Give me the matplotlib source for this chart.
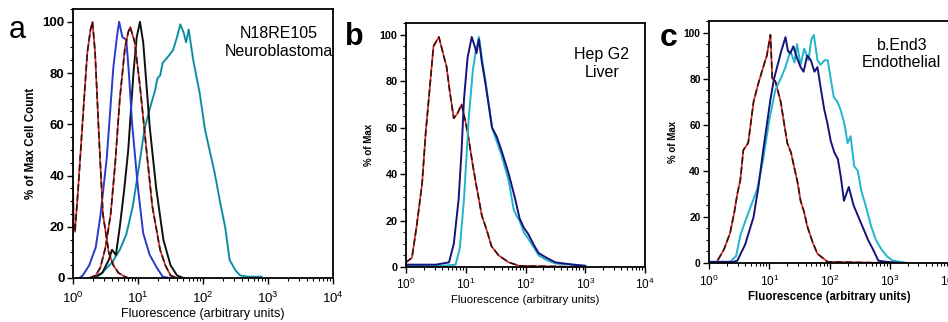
import numpy as np
import matplotlib
matplotlib.use("Agg")
import matplotlib.pyplot as plt
from matplotlib.ticker import LogLocator, MultipleLocator, NullFormatter

plt.rcParams['font.family'] = ['Liberation Sans', 'DejaVu Sans']
plt.rcParams['mathtext.fontset'] = 'custom'
plt.rcParams['mathtext.rm'] = 'Liberation Sans'
plt.rcParams['mathtext.it'] = 'Liberation Sans'

# ---------------- Panel a data (log10 fluorescence, % of max) ----------------
a_ctrl_x = [0.0, 0.01, 0.03, 0.08, 0.15, 0.22, 0.27, 0.30, 0.34, 0.40, 0.46, 0.55, 0.62, 0.70, 0.80, 0.85]
a_ctrl_y = [37, 20, 18, 35, 62, 88, 97, 100, 88, 55, 25, 10, 5, 2, 0.5, 0]
a_blue_x = [0.10, 0.15, 0.25, 0.35, 0.42, 0.52, 0.62, 0.68, 0.71, 0.76, 0.82, 0.86, 0.91, 1.00, 1.08, 1.18, 1.29, 1.38, 1.5]
a_blue_y = [0, 1, 5, 12, 24, 47, 82, 95, 100, 94, 93, 80, 60, 35, 17.5, 9, 4, 0.5, 0]
a_red_x = [0.25, 0.35, 0.42, 0.50, 0.58, 0.65, 0.72, 0.80, 0.85, 0.88, 0.95, 1.03, 1.13, 1.22, 1.34, 1.42, 1.5, 1.6]
a_red_y = [0, 1, 4, 12, 25, 45, 70, 90, 96, 98, 92, 75, 50, 28, 11, 5, 1, 0]
a_black_x = [0.30, 0.45, 0.55, 0.60, 0.66, 0.72, 0.79, 0.85, 0.93, 0.98, 1.03, 1.08, 1.18, 1.28, 1.39, 1.50, 1.60, 1.70]
a_black_y = [0, 2, 7, 11, 9, 20, 35, 50, 80, 94, 100, 92, 59, 35, 15, 5, 1, 0]
a_cyan_x = [0.35, 0.45, 0.52, 0.60, 0.72, 0.82, 0.92, 1.03, 1.10, 1.18, 1.26, 1.30, 1.34, 1.38, 1.45, 1.54, 1.60, 1.65, 1.70, 1.74, 1.78, 1.85, 1.95, 2.03, 2.10, 2.18, 2.26, 2.34, 2.41, 2.50, 2.57, 2.7, 2.9]
a_cyan_y = [0, 2, 4, 6, 11, 17, 28, 46, 58, 66, 73, 78, 79, 84, 86, 89, 94, 99, 96, 92, 97, 85, 72, 58, 50, 41, 30, 20, 7, 3, 1, 0.5, 0.5]

# ---------------- Panel b data ----------------
b_ctrl_x = [0.0, 0.1, 0.18, 0.27, 0.33, 0.38, 0.46, 0.55, 0.62, 0.68, 0.73, 0.77, 0.80, 0.86, 0.93, 1.0, 1.05, 1.11, 1.17, 1.27, 1.35, 1.43, 1.55, 1.72, 1.9, 3.0]
b_ctrl_y = [2, 4, 18, 36, 58, 72, 95, 99, 92, 86, 76, 69, 64, 66, 70, 62, 55, 45, 36, 22, 16, 9, 5, 2, 0.5, 0]
b_blue_x = [0.0, 0.5, 0.72, 0.80, 0.88, 0.93, 0.97, 1.03, 1.10, 1.15, 1.18, 1.22, 1.27, 1.33, 1.44, 1.52, 1.60, 1.72, 1.83, 1.90, 1.97, 2.05, 2.15, 2.22, 2.35, 2.5, 2.8, 3.0]
b_blue_y = [1, 1, 2, 10, 29, 50, 72, 90, 99, 95, 92, 98, 88, 79, 60, 56, 50, 40, 29, 21, 17, 14, 9, 6, 4, 2, 1, 0.5]
b_cyan_x = [0.0, 0.6, 0.83, 0.90, 0.97, 1.05, 1.12, 1.17, 1.22, 1.27, 1.33, 1.44, 1.52, 1.60, 1.72, 1.80, 1.85, 1.90, 1.97, 2.05, 2.15, 2.22, 2.35, 2.5, 2.8, 3.0]
b_cyan_y = [0.5, 0.5, 1, 8, 29, 64, 85, 93, 99, 90, 80, 60, 54, 48, 37, 25, 22, 20, 15, 12, 8, 5, 3, 1.5, 1, 0.5]

# ---------------- Panel c data ----------------
c_ctrl_x = [0.0, 0.13, 0.25, 0.35, 0.42, 0.47, 0.52, 0.57, 0.65, 0.74, 0.82, 0.90, 0.96, 1.02, 1.05, 1.10, 1.19, 1.25, 1.30, 1.36, 1.41, 1.47, 1.52, 1.58, 1.63, 1.72, 1.80, 1.97, 3.0]
c_ctrl_y = [0.5, 0.5, 6, 13, 22, 30, 36, 49, 52, 70, 78, 85, 90, 99, 80, 79, 70, 60, 52, 48, 42, 35, 27, 22, 16, 9, 4, 0.5, 0]
c_blue_x = [0.0, 0.40, 0.47, 0.60, 0.74, 0.82, 0.90, 0.96, 1.02, 1.08, 1.13, 1.20, 1.27, 1.31, 1.35, 1.40, 1.46, 1.52, 1.57, 1.63, 1.69, 1.75, 1.80, 1.86, 1.91, 1.97, 2.02, 2.08, 2.14, 2.19, 2.24, 2.32, 2.40, 2.48, 2.56, 2.64, 2.72, 2.81, 2.95, 3.2]
c_blue_y = [0.5, 0.5, 1, 8, 20, 33, 49, 60, 71, 80, 85, 92, 98, 92, 91, 94, 89, 85, 83, 90, 88, 83, 85, 75, 67, 60, 53, 48, 45, 37, 27, 33, 25, 20, 15, 10, 6, 1, 0.5, 0]
c_cyan_x = [0.0, 0.35, 0.45, 0.52, 0.60, 0.70, 0.80, 0.90, 1.00, 1.10, 1.19, 1.27, 1.35, 1.42, 1.46, 1.52, 1.58, 1.65, 1.70, 1.74, 1.80, 1.85, 1.92, 1.97, 2.02, 2.07, 2.13, 2.19, 2.25, 2.30, 2.35, 2.41, 2.47, 2.53, 2.60, 2.69, 2.77, 2.86, 2.95, 3.05, 3.3]
c_cyan_y = [0.5, 0.5, 3, 12, 18, 25, 32, 45, 62, 75, 80, 85, 92, 87, 95, 86, 93, 88, 97, 99, 88, 86, 88, 88, 80, 72, 70, 66, 60, 52, 55, 42, 40, 31, 25, 16, 10, 6, 3, 1, 0]

xticks = [1, 10, 100, 1000, 10000]
xticklabels = ['$10^0$', '$10^1$', '$10^2$', '$10^3$', '$10^4$']
yticks = [0, 20, 40, 60, 80, 100]
xlabel = 'Fluorescence (arbitrary units)'

RED = '#d42a2a'
DARK = '#3a1010'
NAVY = '#14147a'
BLUE = '#2a3acc'
CYAN = '#22b4cc'
TEAL = '#1a6e78'
BLACK = '#101010'

fig = plt.figure(figsize=(9.48, 3.22), dpi=100)

def setup(ax, ylabel, ylab_size, ytick_size, xtick_size, xlab_size, xlab_bold, xpad, xlabpad):
    ax.set_xscale('log')
    ax.set_xlim(1, 10000)
    ax.set_ylim(0, 105)
    ax.set_xticks(xticks)
    ax.set_xticklabels(xticklabels, fontsize=xtick_size)
    ax.xaxis.set_minor_locator(LogLocator(base=10, subs=np.arange(2, 10)))
    ax.xaxis.set_minor_formatter(NullFormatter())
    ax.set_yticks(yticks)
    ax.set_yticklabels([str(v) for v in yticks], fontsize=ytick_size, fontweight='bold')
    ax.yaxis.set_minor_locator(MultipleLocator(5))
    ax.tick_params(axis='both', which='major', direction='out', length=4, width=1.0, pad=2)
    ax.tick_params(axis='x', which='major', pad=xpad)
    ax.tick_params(axis='both', which='minor', direction='out', length=2.5, width=0.8)
    ax.set_xlabel(xlabel, fontsize=xlab_size, labelpad=xlabpad,
                  fontweight='bold' if xlab_bold else 'normal')
    ax.set_ylabel(ylabel, fontsize=ylab_size, fontweight='bold', labelpad=4)
    for s in ax.spines.values():
        s.set_linewidth(1.3)

def ctrl(ax, xs, ys):
    x = 10 ** np.array(xs)
    ax.plot(x, ys, color=RED, lw=1.2)
    ax.plot(x, ys, color=DARK, lw=1.2, dashes=(4, 2))

def curve(ax, xs, ys, color, lw=1.4):
    ax.plot(10 ** np.array(xs), ys, color=color, lw=lw)

# Panel a
axa = fig.add_axes([73/948, 1-278/322, (333-73)/948, (278-9)/322])
setup(axa, '% of Max Cell Count', 8.3, 9.5, 9.5, 9, False, 5, 2)
curve(axa, a_cyan_x, a_cyan_y, CYAN, 1.5)
curve(axa, a_cyan_x, a_cyan_y, TEAL, 0.6)
curve(axa, a_black_x, a_black_y, BLACK)
curve(axa, a_blue_x, a_blue_y, BLUE)
ctrl(axa, a_red_x, a_red_y)
ctrl(axa, a_ctrl_x, a_ctrl_y)
axa.text(0.79, 0.935, 'N18RE105\nNeuroblastoma', transform=axa.transAxes, ha='center', va='top',
         fontsize=11.5, linespacing=1.2)
fig.text(9/948, 1-30/322, 'a', fontsize=22, va='center', ha='left')

# Panel b
axb = fig.add_axes([406/948, 1-267/322, (645-406)/948, (267-23)/322])
setup(axb, '% of Max', 7, 7.8, 8.5, 8.2, False, 3, 2)
ctrl(axb, b_ctrl_x, b_ctrl_y)
curve(axb, b_cyan_x, b_cyan_y, CYAN)
curve(axb, b_blue_x, b_blue_y, NAVY)
axb.text(0.82, 0.90, 'Hep G2\nLiver', transform=axb.transAxes, ha='center', va='top',
         fontsize=11.5, linespacing=1.2)
fig.text(345/948, 1-37/322, 'b', fontsize=22, fontweight='bold', va='center', ha='left')

# Panel c
axc = fig.add_axes([709/948, 1-263/322, (950-709)/948, (263-21)/322])
setup(axc, '% of Max', 7, 7.4, 8.5, 8.3, True, 4, 1)
ctrl(axc, c_ctrl_x, c_ctrl_y)
curve(axc, c_cyan_x, c_cyan_y, CYAN)
curve(axc, c_blue_x, c_blue_y, NAVY)
axc.text(0.80, 0.93, 'b.End3\nEndothelial', transform=axc.transAxes, ha='center', va='top',
         fontsize=11.5, linespacing=1.2)
fig.text(660/948, 1-38/322, 'c', fontsize=23, fontweight='bold', va='center', ha='left')

fig.savefig('out.png', dpi=100)
